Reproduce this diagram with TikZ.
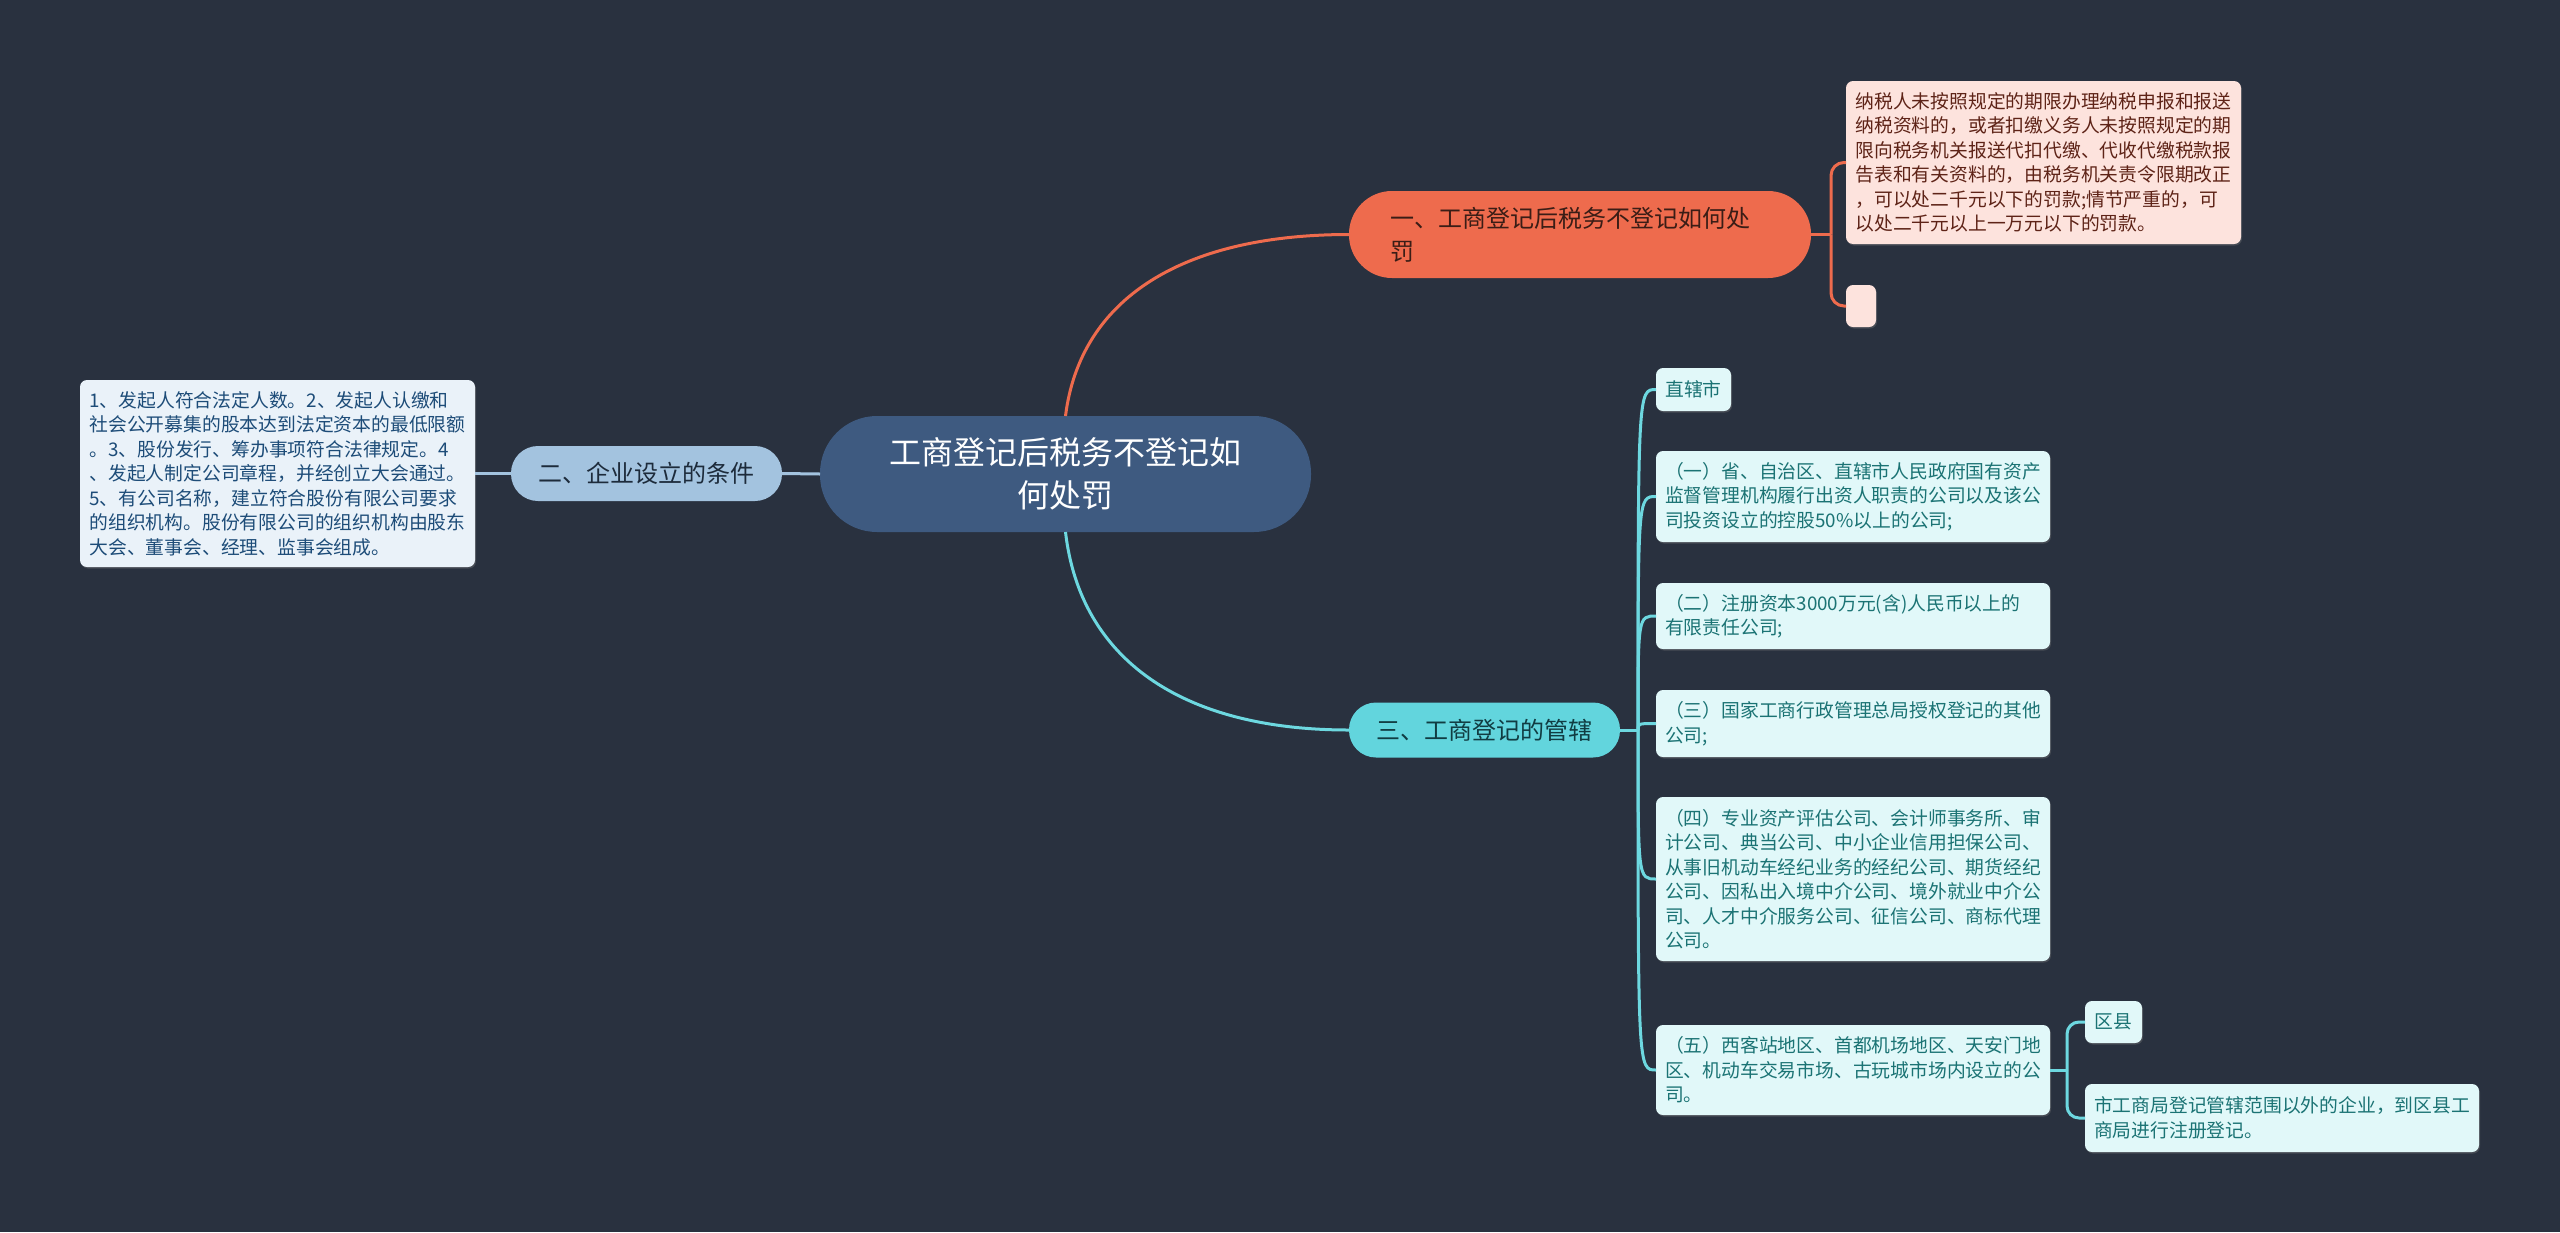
\documentclass[tikz,border=0pt]{standalone}
\usepackage{fontspec}
\setmainfont{Noto Sans CJK SC}
\usetikzlibrary{shadows}
\definecolor{bgc}{HTML}{29313F}
\definecolor{rootc}{HTML}{3E5A80}
\definecolor{orc}{HTML}{EE6B4D}
\definecolor{ortext}{HTML}{3A1D16}
\definecolor{pinkc}{HTML}{FDE3DD}
\definecolor{pinktext}{HTML}{5E2317}
\definecolor{bluec}{HTML}{A3C3DF}
\definecolor{bluetext}{HTML}{1D2B3B}
\definecolor{lbluec}{HTML}{EAF2F9}
\definecolor{lbluetext}{HTML}{1D4C78}
\definecolor{cyc}{HTML}{62D5DD}
\definecolor{cytext}{HTML}{113C42}
\definecolor{lcyc}{HTML}{E1F8F9}
\definecolor{lcytext}{HTML}{1B7374}
\definecolor{cyline}{HTML}{6DD8E0}
\begin{document}
\begin{tikzpicture}[x=1pt,y=-1pt,
  every node/.style={inner sep=0pt, outer sep=0pt},
  rootnode/.style={fill=rootc, rounded corners=57pt, minimum width=491pt, minimum height=116pt, text=white, align=center, font=\fontsize{32}{43}\selectfont},
  mainbr/.style={rounded corners=27pt, minimum width=271pt, minimum height=55pt, align=center, font=\fontsize{24}{33}\selectfont},
  leafbase/.style={rounded corners=7pt, align=left, font=\fontsize{18.8}{24.5}\selectfont, drop shadow={opacity=0.35, shadow xshift=1pt, shadow yshift=-1.5pt}},
  pinkleaf/.style={leafbase, fill=pinkc, text=pinktext},
  blueleaf/.style={leafbase, fill=lbluec, text=lbluetext},
  cyleaf/.style={leafbase, fill=lcyc, text=lcytext},
  conn/.style={line width=3pt},
  oline/.style={conn, draw=orc},
  bline/.style={conn, draw=bluec},
  cline/.style={conn, draw=cyline}
]
\fill[bgc] (0,0) rectangle (2560,1232);
\useasboundingbox (0,0) rectangle (2560,1232);

% root
\node[rootnode] (root) at (1065.5,474) {工商登记后税务不登记如\\何处罚};

% branch 1
\node[fill=orc, rounded corners=43pt, minimum width=462pt, minimum height=87pt, text width=380pt, align=left, text=ortext, font=\fontsize{24}{33}\selectfont] (b1) at (1580,234.5) {一、工商登记后税务不登记如何处\\罚};
\node[pinkleaf, minimum width=395pt, minimum height=163pt, text width=376pt] (l1a) at (2043.5,162.5) {纳税人未按照规定的期限办理纳税申报和报送\\纳税资料的，或者扣缴义务人未按照规定的期\\限向税务机关报送代扣代缴、代收代缴税款报\\告表和有关资料的，由税务机关责令限期改正\\，可以处二千元以下的罚款;情节严重的，可\\以处二千元以上一万元以下的罚款。};
\node[pinkleaf, minimum width=30pt, minimum height=42pt] (l1b) at (1861,306) {};

% branch 2
\node[mainbr, fill=bluec, text=bluetext] (b2) at (646.5,473.5) {二、企业设立的条件};
\node[blueleaf, minimum width=395pt, minimum height=187pt, text width=376pt] (l2) at (277.5,473.5) {1、发起人符合法定人数。2、发起人认缴和\\社会公开募集的股本达到法定资本的最低限额\\。3、股份发行、筹办事项符合法律规定。4\\、发起人制定公司章程，并经创立大会通过。\\5、有公司名称，建立符合股份有限公司要求\\的组织机构。股份有限公司的组织机构由股东\\大会、董事会、经理、监事会组成。};

% branch 3
\node[mainbr, fill=cyc, text=cytext] (b3) at (1484.5,730) {三、工商登记的管辖};
\node[cyleaf, minimum width=75pt, minimum height=43pt] (c0) at (1693.5,389.5) {直辖市};
\node[cyleaf, minimum width=394pt, minimum height=91pt, text width=376pt] (c1) at (1853,496.5) {（一）省、自治区、直辖市人民政府国有资产\\监督管理机构履行出资人职责的公司以及该公\\司投资设立的控股50\%以上的公司;};
\node[cyleaf, minimum width=394pt, minimum height=66pt, text width=376pt] (c2) at (1853,616) {（二）注册资本3000万元(含)人民币以上的\\有限责任公司;};
\node[cyleaf, minimum width=394pt, minimum height=67pt, text width=376pt] (c3) at (1853,723.5) {（三）国家工商行政管理总局授权登记的其他\\公司;};
\node[cyleaf, minimum width=394pt, minimum height=164pt, text width=376pt] (c4) at (1853,879) {（四）专业资产评估公司、会计师事务所、审\\计公司、典当公司、中小企业信用担保公司、\\从事旧机动车经纪业务的经纪公司、期货经纪\\公司、因私出入境中介公司、境外就业中介公\\司、人才中介服务公司、征信公司、商标代理\\公司。};
\node[cyleaf, minimum width=394pt, minimum height=90pt, text width=376pt] (c5) at (1853,1070) {（五）西客站地区、首都机场地区、天安门地\\区、机动车交易市场、古玩城市场内设立的公\\司。};
\node[cyleaf, minimum width=57pt, minimum height=42pt] (c6) at (2113.5,1022) {区县};
\node[cyleaf, minimum width=394pt, minimum height=68pt, text width=376pt] (c7) at (2282,1118) {市工商局登记管辖范围以外的企业，到区县工\\商局进行注册登记。};

% connectors
\draw[oline] (root.north) .. controls (1080,300) and (1180,234.5) .. (b1.west);
\draw[cline] (root.south) .. controls (1080,658) and (1180,730) .. (b3.west);
\draw[bline] (root.west) -- (b2.east);
\draw[bline] (b2.west) -- (l2.east);

\coordinate (k1) at (1831,234.5);
\draw[oline] (b1.east) -- (k1);
\draw[oline, rounded corners=13pt] (k1) |- (l1a.west);
\draw[oline, rounded corners=13pt] (k1) |- (l1b.west);

\coordinate (k3) at (1638,730);
\draw[cline] (b3.east) -- (k3);
\foreach \n in {c0,c1,c2,c3,c4,c5}{
  \draw[cline] (k3) .. controls (k3 |- \n.west) .. (\n.west);
}

\coordinate (k5) at (2067,1070);
\draw[cline] (c5.east) -- (k5);
\draw[cline, rounded corners=12pt] (k5) |- (c6.west);
\draw[cline, rounded corners=12pt] (k5) |- (c7.west);
\end{tikzpicture}
\end{document}
